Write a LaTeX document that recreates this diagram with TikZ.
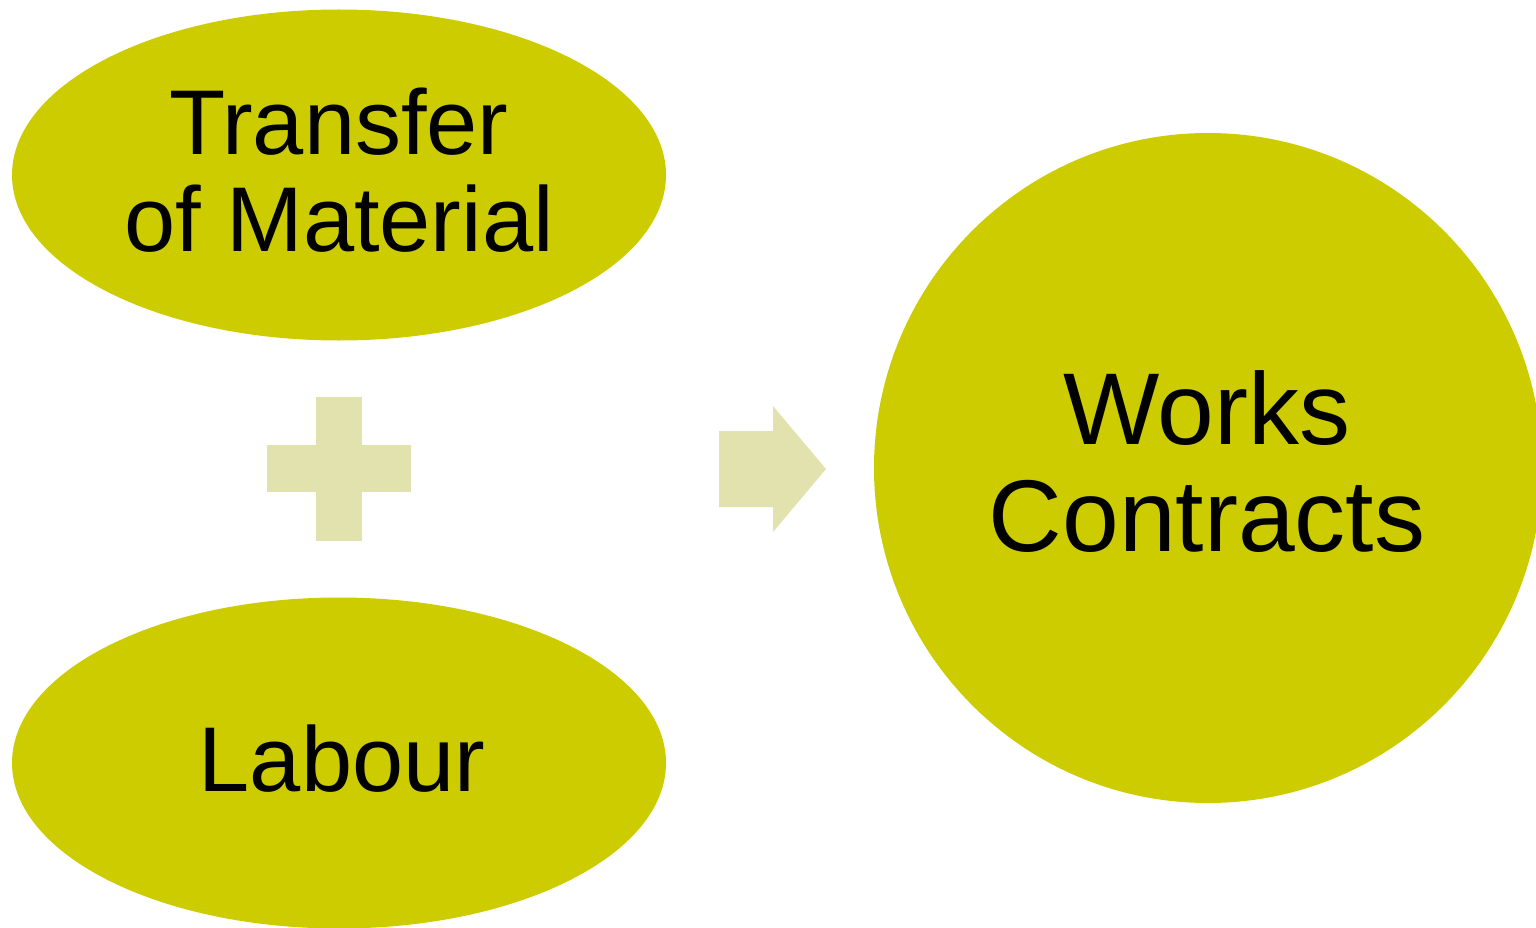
\documentclass[tikz,border=0pt]{standalone}
\usepackage{fontspec}
\setmainfont{Liberation Sans}
\usetikzlibrary{shapes.geometric}
\definecolor{olive}{HTML}{CCCC00}
\definecolor{paleolive}{HTML}{E2E2AE}
\tikzset{
  blob/.style={ellipse, fill=olive, draw=none, inner sep=0pt},
  label92/.style={align=center, inner sep=0pt, font=\fontsize{92}{97}\selectfont},
  label102/.style={align=center, inner sep=0pt, font=\fontsize{102}{107}\selectfont},
  sign/.style={fill=paleolive, draw=none}
}
\begin{document}
\begin{tikzpicture}[x=1pt,y=-1pt]
  \useasboundingbox (0,0) rectangle (1536,928);
  % the two ingredients
  \node[blob, minimum width=654pt, minimum height=331pt] (material) at (339,175) {};
  \node[label92] (materialtext) at (339,170) {Transfer\\of Material};
  \node[blob, minimum width=654pt, minimum height=331pt] (labour) at (339,763) {};
  \node[label92] (labourtext) at (342,759) {Labour};
  % the result
  \node[blob, minimum width=668pt, minimum height=670pt] (works) at (1208,468) {};
  \node[label102] (workstext) at (1207,462) {Works\\Contracts};
  % plus sign
  \fill[sign] (316,397) rectangle (362,541);
  \fill[sign] (267,445) rectangle (411,492);
  % arrow
  \fill[sign] (719,431) -- (773,431) -- (773,406) -- (826,469) -- (773,532) -- (773,507) -- (719,507) -- cycle;
\end{tikzpicture}
\end{document}
